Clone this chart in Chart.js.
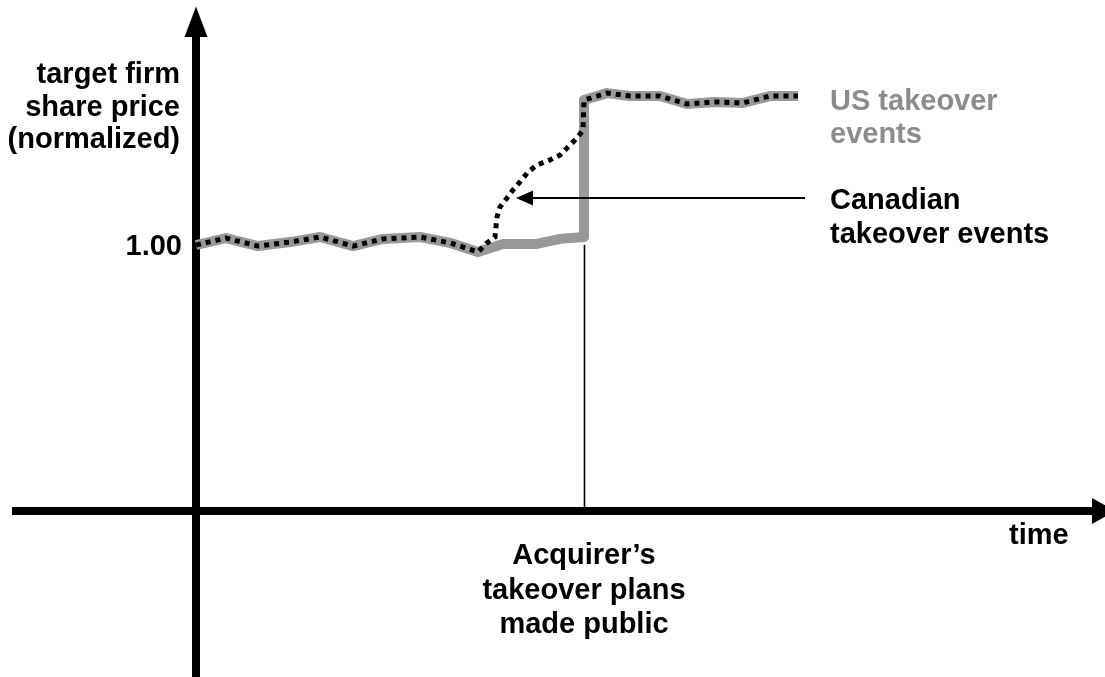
<!DOCTYPE html>
<html>
<head>
<meta charset="utf-8">
<style>
  html, body { margin: 0; padding: 0; background: #fff; }
  #wrap { width: 1105px; height: 677px; }
</style>
<script src="https://cdn.jsdelivr.net/npm/chart.js@4.4.1/dist/chart.umd.min.js"></script>
</head>
<body>
<div id="wrap"><canvas id="c" width="1105" height="677"></canvas></div>
<script>
// ---- data (time units, normalized share price) ----
const usTime = [0, 3, 6.2, 9.4, 12.4, 15.7, 18.7, 22.4, 25.4, 28.2, 30.7, 34.1, 36.4, 38.8, 38.8, 41.1, 43.4, 46.4, 49.1, 51.9, 54.7, 57.4, 60.2];
const usPrice = [1.000, 1.026, 0.996, 1.011, 1.030, 0.996, 1.023, 1.030, 1.008, 0.974, 1.004, 1.004, 1.023, 1.030, 1.545, 1.571, 1.560, 1.560, 1.530, 1.538, 1.534, 1.560, 1.560];

const caTime = [0, 3, 6.2, 9.4, 12.4, 15.7, 18.7, 22.4, 25.4, 28.2, 29.1, 29.9, 30.0, 30.1, 30.4, 31.1, 31.7, 32.4, 33.2, 34.1, 35.4, 36.4, 37.2, 38.1, 38.7, 38.8, 41.1, 43.4, 46.4, 49.1, 51.9, 54.7, 57.4, 60.2];
const caPrice = [1.000, 1.026, 0.996, 1.011, 1.030, 0.996, 1.023, 1.030, 1.008, 0.974, 1.008, 1.030, 1.068, 1.105, 1.143, 1.177, 1.207, 1.237, 1.274, 1.301, 1.320, 1.338, 1.368, 1.402, 1.432, 1.545, 1.571, 1.560, 1.560, 1.530, 1.538, 1.534, 1.560, 1.560];

const announceTime = [38.8];
const baselinePrice = [1.00];
const yTickLabels = ['1.00'];
const yAxisTitle = ['target firm', 'share price', '(normalized)'];
const xAxisTitle = ['time'];
const usLabel = ['US takeover', 'events'];
const caLabel = ['Canadian', 'takeover events'];
const eventLabel = ['Acquirer\u2019s', 'takeover plans', 'made public'];

const toPts = (xs, ys) => xs.map((t, i) => ({ x: t, y: ys[i] }));

const FONT = 'bold 29px "Liberation Sans", Arial, Helvetica, sans-serif';

const overlay = {
  id: 'overlay',
  beforeDatasetsDraw(chart) {
    const { ctx, scales: { x, y } } = chart;
    const x0 = x.getPixelForValue(0), y0 = y.getPixelForValue(0);
    ctx.save();
    ctx.fillStyle = '#000';
    ctx.strokeStyle = '#000';
    // vertical axis
    ctx.lineWidth = 8;
    ctx.beginPath(); ctx.moveTo(x0, chart.height); ctx.lineTo(x0, 34); ctx.stroke();
    ctx.beginPath(); ctx.moveTo(x0, 6.5); ctx.lineTo(x0 - 11.5, 37); ctx.lineTo(x0 + 11.5, 37); ctx.closePath(); ctx.fill();
    // horizontal axis
    ctx.beginPath(); ctx.moveTo(12, y0); ctx.lineTo(1094, y0); ctx.stroke();
    ctx.beginPath(); ctx.moveTo(1092, y0 - 13); ctx.lineTo(1115, y0); ctx.lineTo(1092, y0 + 13); ctx.closePath(); ctx.fill();
    // announcement marker
    const xa = Math.round(x.getPixelForValue(announceTime[0])) + 0.5;
    ctx.lineWidth = 1.6;
    ctx.beginPath(); ctx.moveTo(xa, y0); ctx.lineTo(xa, y.getPixelForValue(baselinePrice[0])); ctx.stroke();
    ctx.restore();
  },
  afterDraw(chart) {
    const { ctx, scales: { x, y } } = chart;
    const x0 = x.getPixelForValue(0);
    const xa = x.getPixelForValue(announceTime[0]);
    ctx.save();
    ctx.font = FONT;
    ctx.textBaseline = 'alphabetic';
    // y axis title
    ctx.fillStyle = '#000';
    ctx.textAlign = 'right';
    yAxisTitle.forEach((s, i) => ctx.fillText(s, x0 - 16, 83 + i * 32.5));
    // tick label
    ctx.fillText(yTickLabels[0], x0 - 14, y.getPixelForValue(baselinePrice[0]) + 10);
    // US label
    ctx.textAlign = 'left';
    ctx.fillStyle = '#8c8c8c';
    usLabel.forEach((s, i) => ctx.fillText(s, 830, 110 + i * 32.5));
    // Canadian label
    ctx.fillStyle = '#000';
    caLabel.forEach((s, i) => ctx.fillText(s, 830, 209 + i * 33.5));
    // x axis title
    ctx.fillText(xAxisTitle[0], 1009, 544);
    // event label
    ctx.textAlign = 'center';
    eventLabel.forEach((s, i) => ctx.fillText(s, xa, 564 + i * 34.5));
    // arrow pointing to Canadian series
    const ay = 198;
    ctx.strokeStyle = '#000';
    ctx.lineWidth = 2;
    ctx.beginPath(); ctx.moveTo(805, ay); ctx.lineTo(528, ay); ctx.stroke();
    ctx.beginPath(); ctx.moveTo(516, ay); ctx.lineTo(533, ay - 7.5); ctx.lineTo(533, ay + 7.5); ctx.closePath(); ctx.fill();
    ctx.restore();
  }
};

new Chart(document.getElementById('c'), {
  type: 'line',
  data: {
    datasets: [
      {
        label: 'Canadian takeover events',
        data: toPts(caTime, caPrice),
        borderColor: '#000',
        borderWidth: 5,
        borderDash: [5, 5],
        pointRadius: 0,
        tension: 0,
        fill: false,
        clip: false,
        order: 0
      },
      {
        label: 'US takeover events',
        data: toPts(usTime, usPrice),
        borderColor: '#999999',
        borderWidth: 10,
        borderJoinStyle: 'round',
        pointRadius: 0,
        tension: 0,
        fill: false,
        clip: false,
        order: 1
      }
    ]
  },
  options: {
    responsive: false,
    animation: false,
    devicePixelRatio: 1,
    layout: { padding: 0 },
    plugins: { legend: { display: false }, tooltip: { enabled: false }, title: { display: false } },
    scales: {
      x: { type: 'linear', display: false, min: -19.6, max: 90.9 },
      y: { type: 'linear', display: false, min: -(677 - 511) / 266, max: 511 / 266 }
    }
  },
  plugins: [overlay]
});
</script>
</body>
</html>
